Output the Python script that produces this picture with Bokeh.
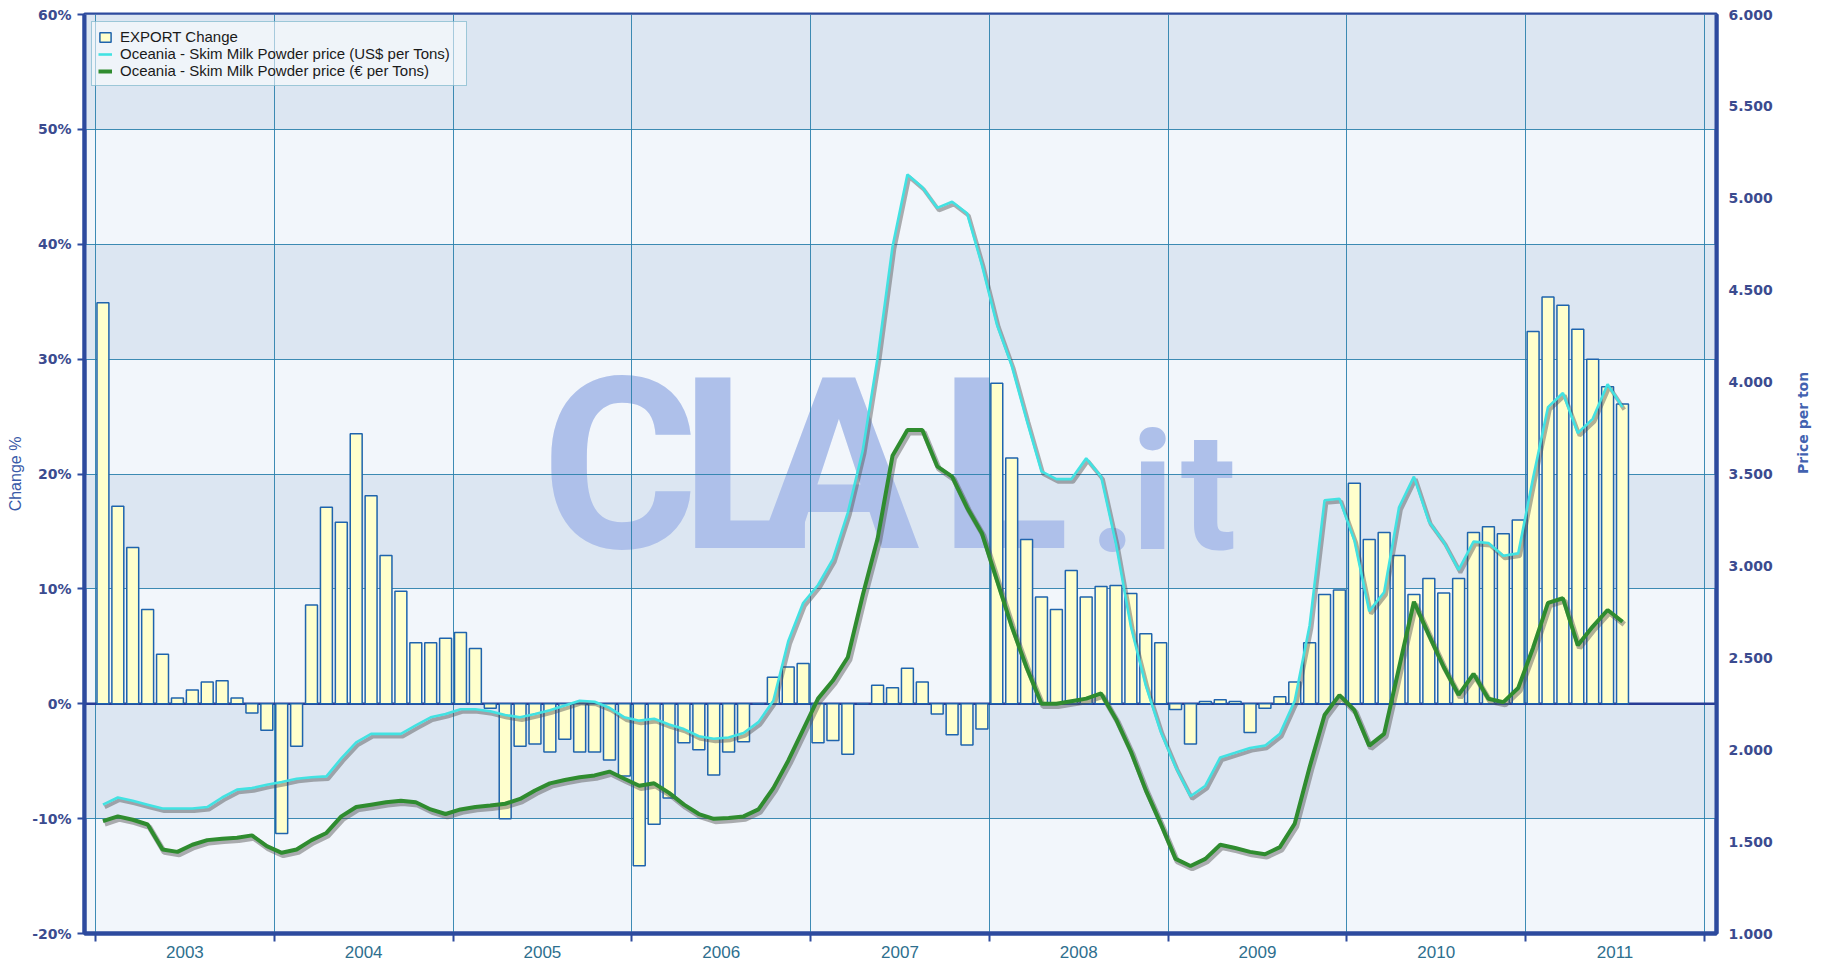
import math
import numpy as np
from bokeh.plotting import figure
from bokeh.models import (Range1d, LinearAxis, FixedTicker, BoxAnnotation, Span, Label,
                          Legend, LegendItem, PrintfTickFormatter)
from bokeh.embed import file_html
from bokeh.resources import INLINE

# ---------------- data (monthly, Jan 2003 .. Jul 2011) ----------------
years = ["2003", "2004", "2005", "2006", "2007", "2008", "2009", "2010", "2011"]

export_change = [
    34.9, 17.2, 13.6, 8.2, 4.3, 0.5, 1.2, 1.9, 2.0, 0.5, -0.8, -2.3,          # 2003
    -11.3, -3.7, 8.6, 17.1, 15.8, 23.5, 18.1, 12.9, 9.8, 5.3, 5.3, 5.7,       # 2004
    6.2, 4.8, -0.4, -10.0, -3.7, -3.5, -4.2, -3.1, -4.2, -4.2, -4.9, -6.3,    # 2005
    -14.1, -10.5, -8.2, -3.4, -4.0, -6.2, -4.2, -3.3, 0.0, 2.3, 3.2, 3.5,     # 2006
    -3.4, -3.2, -4.4, 0.0, 1.6, 1.4, 3.1, 1.9, -0.9, -2.7, -3.6, -2.2,        # 2007
    27.9, 21.4, 14.3, 9.3, 8.2, 11.6, 9.3, 10.2, 10.3, 9.6, 6.1, 5.3,         # 2008
    -0.5, -3.5, 0.2, 0.35, 0.2, -2.5, -0.4, 0.6, 1.9, 5.3, 9.5, 9.9,          # 2009
    19.2, 14.3, 14.9, 12.9, 9.5, 10.9, 9.65, 10.9, 14.9, 15.4, 14.8, 16.0,    # 2010
    32.4, 35.4, 34.7, 32.6, 30.0, 27.6, 26.1,                                 # 2011
]

usd_price = [
    1701, 1740, 1722, 1701, 1680, 1680, 1680, 1688, 1740, 1783, 1791, 1809,
    1824, 1842, 1850, 1855, 1953, 2040, 2086, 2086, 2086, 2132, 2176, 2194,
    2220, 2220, 2209, 2189, 2176, 2194, 2215, 2240, 2266, 2261, 2228, 2176,
    2158, 2168, 2137, 2112, 2073, 2060, 2066, 2091, 2150, 2266, 2590, 2798,
    2896, 3037, 3290, 3627, 4133, 4737, 5130, 5060, 4948, 4981, 4919, 4638,
    4315, 4090, 3795, 3514, 3472, 3472, 3585, 3486, 3121, 2670, 2350, 2099,
    1906, 1747, 1804, 1958, 1983, 2009, 2022, 2086, 2266, 2677, 3357, 3365,
    3139, 2754, 2857, 3319, 3486, 3242, 3130, 2978, 3132, 3125, 3055, 3068,
    3480, 3864, 3941, 3723, 3800, 3988, 3864,
]

eur_price = [
    1611, 1637, 1619, 1593, 1457, 1444, 1483, 1508, 1516, 1521, 1534, 1475,
    1439, 1457, 1508, 1547, 1637, 1688, 1701, 1714, 1722, 1714, 1675, 1650,
    1675, 1688, 1696, 1706, 1732, 1778, 1817, 1835, 1850, 1860, 1881, 1842,
    1804, 1817, 1765, 1701, 1650, 1624, 1629, 1637, 1675, 1791, 1940, 2109,
    2278, 2376, 2503, 2840, 3149, 3599, 3739, 3739, 3542, 3486, 3318, 3177,
    2924, 2671, 2447, 2250, 2250, 2264, 2278, 2306, 2166, 1990, 1780, 1598,
    1406, 1367, 1406, 1483, 1465, 1444, 1431, 1470, 1598, 1906, 2189, 2297,
    2215, 2022, 2086, 2446, 2805, 2625, 2450, 2298, 2413, 2277, 2259, 2336,
    2555, 2799, 2824, 2568, 2670, 2760, 2696,
]

pct_ticks = [-20, -10, 0, 10, 20, 30, 40, 50, 60]
price_ticks = [1000, 1500, 2000, 2500, 3000, 3500, 4000, 4500, 5000, 5500, 6000]
price_tick_labels = ["1.000", "1.500", "2.000", "2.500", "3.000", "3.500",
                     "4.000", "4.500", "5.000", "5.500", "6.000"]

series_names = ["EXPORT Change",
                "Oceania - Skim Milk Powder price (US$ per Tons)",
                "Oceania - Skim Milk Powder price (\u20ac per Tons)"]

# ---------------- derived positions ----------------
n = len(export_change)
month_x = np.arange(n) + 0.5
year_bounds = [12 * k for k in range(len(years) + 1)]
year_centers = [12 * k + 6 for k in range(len(years))]

AXIS_BLUE = "#2d4a9e"
GRID = "#2a80ac"
LABEL_BLUE = "#3b4b8f"

p = figure(frame_width=1632, frame_height=919,
           x_range=Range1d(-0.738, 108.81), y_range=Range1d(-20, 60),
           output_backend="svg", toolbar_location=None,
           min_border_left=84, min_border_right=109,
           min_border_top=14, min_border_bottom=30)
p.extra_y_ranges = {"price": Range1d(1000, 6000)}

p.background_fill_color = "#f2f6fb"
p.border_fill_color = "white"
p.outline_line_color = AXIS_BLUE
p.outline_line_width = 4

# alternating horizontal bands
for k in range(len(pct_ticks) - 1):
    if k % 2 == 1:
        p.add_layout(BoxAnnotation(bottom=pct_ticks[k], top=pct_ticks[k + 1],
                                   fill_color="#dce6f2", fill_alpha=1.0,
                                   line_alpha=0, level="image"))

# watermark "CLAL.it"
wm_letters = ["C", "L", "A", "L", ".", "i", "t"]
wm_x = [35.2, 43.6, 49.9, 61.0, 68.3, 70.95, 74.7]
wm_y = [20.7, 20.7, 20.7, 20.7, 18.4, 18.4, 18.4]
wm_size = ["240px", "240px", "240px", "240px", "165px", "165px", "165px"]
for ch, xx, yy, sz in zip(wm_letters, wm_x, wm_y, wm_size):
    p.add_layout(Label(x=xx, y=yy, text=ch, text_align="center",
                       text_baseline="alphabetic",
                       text_font="Roboto", text_font_style="bold",
                       text_font_size=sz, text_color="#aec0ea", level="image"))

# grids
p.xgrid.ticker = FixedTicker(ticks=year_bounds)
p.ygrid.ticker = FixedTicker(ticks=pct_ticks)
for g in (p.xgrid[0], p.ygrid[0]):
    g.grid_line_color = GRID
    g.grid_line_width = 1
    g.grid_line_alpha = 0.9

# zero line
p.add_layout(Span(location=0, dimension="width", line_color="#283c96",
                  line_width=2.5, level="underlay"))

# bars
bars = p.vbar(x=month_x, top=export_change, bottom=0, width=0.8,
              fill_color="#ffffcc", line_color="#1f64ad", line_width=1.5)

# lines with soft shadows
usd_arr = np.array(usd_price, dtype=float)
eur_arr = np.array(eur_price, dtype=float)
p.line(month_x + 0.12, usd_arr - 14, y_range_name="price",
       line_color="#505050", line_alpha=0.45, line_width=4)
usd_line = p.line(month_x, usd_arr, y_range_name="price",
                  line_color="#42e2e2", line_width=2.6)
p.line(month_x + 0.12, eur_arr - 14, y_range_name="price",
       line_color="#505050", line_alpha=0.45, line_width=5.5)
eur_line = p.line(month_x, eur_arr, y_range_name="price",
                  line_color="#2f8c2f", line_width=4)

# left axis
ya = p.yaxis[0]
ya.ticker = FixedTicker(ticks=pct_ticks)
ya.formatter = PrintfTickFormatter(format="%d%%")
ya.axis_label = "Change %"
ya.axis_label_text_font = "Liberation Sans"
ya.axis_label_text_font_style = "normal"
ya.axis_label_text_font_size = "16px"
ya.axis_label_text_color = "#3a5aa8"
ya.axis_label_standoff = 5
ya.major_label_text_font = "DejaVu Sans"
ya.major_label_text_font_style = "bold"
ya.major_label_text_font_size = "14px"
ya.major_label_text_color = LABEL_BLUE
ya.major_label_standoff = 6
ya.axis_line_color = AXIS_BLUE
ya.axis_line_width = 4
ya.major_tick_line_color = AXIS_BLUE
ya.major_tick_line_width = 2
ya.major_tick_out = 7
ya.major_tick_in = 0
ya.minor_tick_line_alpha = 0

# right axis
ra = LinearAxis(y_range_name="price", ticker=FixedTicker(ticks=price_ticks),
                major_label_overrides=dict(zip(price_ticks, price_tick_labels)))
ra.axis_label = "Price per ton"
ra.axis_label_orientation = math.pi / 2
ra.axis_label_text_font = "DejaVu Sans"
ra.axis_label_text_font_style = "bold"
ra.axis_label_text_font_size = "14px"
ra.axis_label_text_color = "#4262b0"
ra.axis_label_standoff = 27
ra.major_label_text_font = "DejaVu Sans"
ra.major_label_text_font_style = "bold"
ra.major_label_text_font_size = "14px"
ra.major_label_text_color = LABEL_BLUE
ra.major_label_standoff = 12
ra.axis_line_color = AXIS_BLUE
ra.axis_line_width = 4
ra.major_tick_out = 0
ra.major_tick_in = 0
ra.minor_tick_line_alpha = 0
p.add_layout(ra, "right")

# bottom axis: ticks at year boundaries, labels at year centres
xa = p.xaxis[0]
xa.ticker = FixedTicker(ticks=year_centers, minor_ticks=year_bounds)
xa.major_label_overrides = dict(zip(year_centers, years))
xa.major_label_text_font = "Liberation Sans"
xa.major_label_text_font_size = "17px"
xa.major_label_text_color = "#2e6f8e"
xa.major_label_standoff = 4
xa.major_tick_out = 0
xa.major_tick_in = 0
xa.minor_tick_out = 8
xa.minor_tick_in = 0
xa.minor_tick_line_color = AXIS_BLUE
xa.minor_tick_line_width = 2
xa.axis_line_color = AXIS_BLUE
xa.axis_line_width = 4

# source note at the top
p.add_layout(Label(x=54.3, y=60, y_offset=2, text="Data processed by Clal based on GTIS source",
                   text_align="center", text_baseline="bottom",
                   text_font="Liberation Sans", text_font_size="11px",
                   text_color="#333333"))

legend = Legend(items=[LegendItem(label=series_names[0], renderers=[bars]),
                       LegendItem(label=series_names[1], renderers=[usd_line]),
                       LegendItem(label=series_names[2], renderers=[eur_line])],
                location="top_left", margin=7, padding=6, spacing=0,
                label_height=17, label_width=340, glyph_height=12, glyph_width=14,
                label_standoff=8,
                label_text_font="Liberation Sans", label_text_font_size="15px",
                label_text_color="#1a1a1a",
                border_line_color="#4a9ab8", border_line_width=1,
                background_fill_color="white", background_fill_alpha=0.55)
p.add_layout(legend)

open("out.html", "w").write(file_html(p, INLINE))
